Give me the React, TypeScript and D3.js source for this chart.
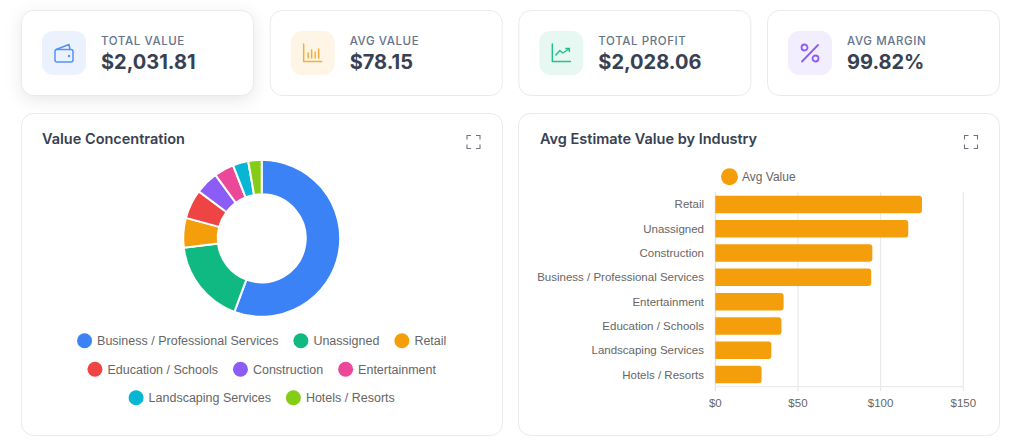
import * as d3 from 'd3';

const kpiLabels = ['TOTAL VALUE', 'AVG VALUE', 'TOTAL PROFIT', 'AVG MARGIN'];
const kpiValues = ['$2,031.81', '$78.15', '$2,028.06', '99.82%'];
const kpiColors = ['#3b82f6', '#f59e0b', '#10b981', '#8b5cf6'];

const donutLabels = [
  'Business / Professional Services',
  'Unassigned',
  'Retail',
  'Education / Schools',
  'Construction',
  'Entertainment',
  'Landscaping Services',
  'Hotels / Resorts',
];
const donutValues = [1131, 354, 124, 122, 97, 83, 65, 56];
const donutColors = ['#3b82f6', '#10b981', '#f59e0b', '#ef4444', '#8b5cf6', '#ec4899', '#06b6d4', '#84cc16'];
const legendRows = [[0, 1, 2], [3, 4, 5], [6, 7]];

const barLabels = [
  'Retail',
  'Unassigned',
  'Construction',
  'Business / Professional Services',
  'Entertainment',
  'Education / Schools',
  'Landscaping Services',
  'Hotels / Resorts',
];
const barValues = [125, 116.7, 95, 94.3, 41.3, 40, 33.9, 28];
const barTicks = [0, 50, 100, 150];

const sansChart = '"Liberation Sans", Arial, sans-serif';
const sansUi = 'Inter, sans-serif';
const chartGray = '#666';
const gridColor = '#e6e6e6';
const borderColor = '#e8eaee';

const measureCtx = document.createElement('canvas').getContext('2d')!;
function textWidth(s: string, font: string) {
  measureCtx.font = font;
  return measureCtx.measureText(s).width;
}

function Card({ x, y, w, h, shadow }: { x: number; y: number; w: number; h: number; shadow?: boolean }) {
  return (
    <rect
      x={x}
      y={y}
      width={w}
      height={h}
      rx={12}
      fill="#fff"
      stroke={borderColor}
      strokeWidth={1}
      style={shadow ? { filter: 'drop-shadow(0 4px 8px rgba(15,23,42,0.10))' } : undefined}
    />
  );
}

function KpiIcon({ index, color }: { index: number; color: string }) {
  const common = { fill: 'none', stroke: color, strokeWidth: 1.5, strokeLinecap: 'round' as const, strokeLinejoin: 'round' as const };
  if (index === 0) {
    return (
      <g {...common} opacity={0.85}>
        <rect x={-9} y={-3.5} width={18} height={12.5} rx={2} />
        <path d="M-8 -3.5 L5 -8.5 L6 -3.5" />
        <circle cx={5} cy={3} r={0.5} />
      </g>
    );
  }
  if (index === 1) {
    return (
      <g {...common} opacity={0.8}>
        <path d="M-9 -9 V8.5 H9" />
        <path d="M-4.5 0 V5 M-1 -3 V5 M2.5 -1 V5 M6 -4 V5" />
      </g>
    );
  }
  if (index === 2) {
    return (
      <g {...common} opacity={0.9}>
        <path d="M-9 -9 V8.5 H9" />
        <path d="M-5.5 2 L-1.5 -2.5 L1.5 0 L8 -4.5 M4.5 -4.5 H8 V-1.5" />
      </g>
    );
  }
  return (
    <g {...common} strokeWidth={1.8}>
      <path d="M8 -8 L-8 8.5" />
      <circle cx={-5.5} cy={-5.5} r={3} />
      <circle cx={5.5} cy={5.5} r={3} />
    </g>
  );
}

function ExpandIcon({ x, y }: { x: number; y: number }) {
  return (
    <path
      transform={`translate(${x},${y})`}
      d="M-6.5 -2.5 V-6.5 H-2.5 M2.5 -6.5 H6.5 V-2.5 M6.5 2.5 V6.5 H2.5 M-2.5 6.5 H-6.5 V2.5"
      fill="none"
      stroke="#6b7280"
      strokeWidth={1.1}
    />
  );
}

function Donut() {
  const cx = 261.7;
  const cy = 238.3;
  const pie = d3.pie<number>().sort(null)(donutValues);
  const arc = d3.arc<d3.PieArcDatum<number>>().innerRadius(44).outerRadius(78.5);
  const legendFont = `12.5px ${sansChart}`;
  const rowY = [340.7, 369.2, 397.7];

  return (
    <g>
      <g transform={`translate(${cx},${cy})`}>
        {pie.map((d, i) => (
          <path key={donutLabels[i]} d={arc(d) ?? ''} fill={donutColors[i]} stroke="#fff" strokeWidth={2} />
        ))}
      </g>
      {legendRows.map((row, r) => {
        const widths = row.map((i) => 20 + textWidth(donutLabels[i], legendFont));
        const total = d3.sum(widths) + 15 * (row.length - 1);
        let x = cx - total / 2;
        return row.map((i, k) => {
          const left = x;
          x += widths[k] + 15;
          return (
            <g key={donutLabels[i]}>
              <circle cx={left + 7.5} cy={rowY[r]} r={7.5} fill={donutColors[i]} />
              <text x={left + 20} y={rowY[r] + 4.3} fontFamily={sansChart} fontSize={12.5} fill={chartGray}>
                {donutLabels[i]}
              </text>
            </g>
          );
        });
      })}
    </g>
  );
}

function Bars() {
  const x = d3.scaleLinear().domain([0, 150]).range([715.3, 963.3]);
  const y = d3.scaleBand().domain(barLabels).range([192.3, 386.7]).paddingInner(0.28).paddingOuter(0.14);
  const r = 3;
  const barPath = (v: number, top: number, h: number) => {
    const p = d3.path();
    const x0 = x(0);
    const x1 = x(v);
    p.moveTo(x0, top);
    p.lineTo(x1 - r, top);
    p.arcTo(x1, top, x1, top + r, r);
    p.lineTo(x1, top + h - r);
    p.arcTo(x1, top + h, x1 - r, top + h, r);
    p.lineTo(x0, top + h);
    p.closePath();
    return p.toString();
  };

  return (
    <g fontFamily={sansChart} fontSize={11.5} fill={chartGray}>
      <circle cx={729.5} cy={176.7} r={8.5} fill="#f59e0b" />
      <text x={742} y={181} fontSize={12}>
        Avg Value
      </text>
      {barTicks.map((t) => (
        <g key={t}>
          <line x1={x(t)} x2={x(t)} y1={192.3} y2={391} stroke={t === 0 ? '#d9d9d9' : gridColor} />
          <text x={x(t)} y={407} textAnchor="middle">
            {`$${t}`}
          </text>
        </g>
      ))}
      <line x1={x(0)} x2={x(150)} y1={386.7} y2={386.7} stroke={gridColor} />
      {barLabels.map((label, i) => {
        const top = y(label)!;
        return (
          <g key={label}>
            <path d={barPath(barValues[i], top, y.bandwidth())} fill="#f59e0b" />
            <text x={704} y={top + y.bandwidth() / 2 + 4} textAnchor="end">
              {label}
            </text>
          </g>
        );
      })}
    </g>
  );
}

export default function App() {
  const cardStep = 248.67;
  return (
    <svg width={1024} height={446} style={{ position: 'absolute', left: 0, top: 0, background: '#fff' }}>
      {kpiLabels.map((label, i) => {
        const x = 21.5 + i * cardStep;
        const color = kpiColors[i];
        return (
          <g key={label}>
            <Card x={x} y={10.5} w={232} h={85} shadow={i === 0} />
            <rect x={x + 20.5} y={31} width={44} height={44} rx={11} fill={color} fillOpacity={0.1} />
            <g transform={`translate(${x + 42.5},53)`}>
              <KpiIcon index={i} color={color} />
            </g>
            <text x={x + 79.5} y={45} fontFamily={sansUi} fontSize={11.5} fontWeight={500} letterSpacing={0.6} fill="#64748b">
              {label}
            </text>
            <text x={x + 79.5} y={69} fontFamily={sansUi} fontSize={20} fontWeight={700} fill="#374151">
              {kpiValues[i]}
            </text>
          </g>
        );
      })}

      <Card x={21.5} y={113.5} w={481} h={322} />
      <Card x={518.5} y={113.5} w={481} h={322} />
      <text x={42} y={144} fontFamily={sansUi} fontSize={14.5} fontWeight={600} fill="#374151">
        Value Concentration
      </text>
      <text x={540} y={144} fontFamily={sansUi} fontSize={14.5} fontWeight={600} fill="#374151">
        Avg Estimate Value by Industry
      </text>
      <ExpandIcon x={473.5} y={142} />
      <ExpandIcon x={971} y={142} />

      <Donut />
      <Bars />
    </svg>
  );
}
